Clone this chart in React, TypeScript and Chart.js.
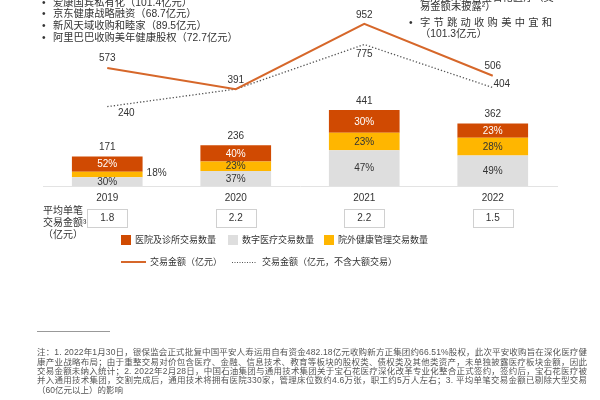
import React, { useEffect, useRef } from "react";
import { Chart, registerables } from "chart.js";

Chart.register(...registerables);

// ---------- data ----------
const years = ["2019", "2020", "2021", "2022"];
const totalDeals = [171, 236, 441, 362];
const hospitalDeals = [89, 94, 132, 83];
const digitalDeals = [51, 87, 207, 177];
const outsideDeals = [31, 55, 102, 102];
const hospitalPct = [52, 40, 30, 23];
const digitalPct = [30, 37, 47, 49];
const outsidePct = [18, 23, 23, 28];
const dealAmount = [573, 391, 952, 506];
const dealAmountExLarge = [240, 391, 775, 404];
const avgDealSize = ["1.8", "2.2", "2.2", "1.5"];

const leftBullets = [
  "爱康国宾私有化（101.4亿元）",
  "京东健康战略融资（68.7亿元）",
  "新风天域收购和睦家（89.5亿元）",
  "阿里巴巴收购美年健康股权（72.7亿元）",
];
const rightNoteTop = ["通用技术整合宝石花医疗（交", "易金额未披露²）"];
const rightBullet = ["字节跳动收购美中宜和", "（101.3亿元）"];
const avgLabelLines = ["平均单笔", "交易金额³", "（亿元）"];
const footnoteLines = [
  "注：1. 2022年1月30日，银保监会正式批复中国平安人寿运用自有资金482.18亿元收购新方正集团约66.51%股权，此次平安收购旨在深化医疗健",
  "康产业战略布局；由于重整交易对价包含医疗、金融、信息技术、教育等板块的股权类、债权类及其他类资产，未单独披露医疗板块金额，因此",
  "交易金额未纳入统计；2. 2022年2月28日，中国石油集团与通用技术集团关于宝石花医疗深化改革专业化整合正式签约，签约后，宝石花医疗被",
  "并入通用技术集团，交割完成后，通用技术将拥有医院330家，管理床位数约4.6万张，职工约5万人左右；3. 平均单笔交易金额已剔除大型交易",
  "（60亿元以上）的影响",
];

// ---------- style ----------
const FONT = "'Liberation Sans', 'Noto Sans CJK SC', sans-serif";
const C_HOSP = "#D04A02";
const C_DIGI = "#DEDEDE";
const C_OUT = "#FFB600";
const C_LINE = "#D6672A";
const C_DOT = "#555555";
const C_TEXT = "#333333";

const f = (sz: number) => `${sz}px ${FONT}`;

// label offsets for line values (dx, dy) relative to points
const solidLabelOffsets: [number, number][] = [[0, -10], [0, -9], [0, -9], [0, -10]];
const dottedLabelOffsets: ([number, number] | null)[] = [[19, 7], null, [0, 10], [9, -3]];

function justify(ctx: CanvasRenderingContext2D, text: string, x0: number, x1: number, y: number) {
  const chars = Array.from(text);
  const widths = chars.map((c) => ctx.measureText(c).width);
  const total = widths.reduce((a, b) => a + b, 0);
  const gap = chars.length > 1 ? (x1 - x0 - total) / (chars.length - 1) : 0;
  let x = x0;
  chars.forEach((c, i) => {
    ctx.fillText(c, x, y);
    x += widths[i] + gap;
  });
}

const overlayPlugin = {
  id: "overlay",
  afterDraw(chart: any) {
    const ctx = chart.ctx as CanvasRenderingContext2D;
    const xs = chart.scales.x;
    ctx.save();
    ctx.textBaseline = "middle";

    // segment percentage labels
    const segs = [
      { ds: 0, pct: digitalPct, color: C_TEXT },
      { ds: 1, pct: outsidePct, color: C_TEXT },
      { ds: 2, pct: hospitalPct, color: "#FFFFFF" },
    ];
    ctx.font = f(10);
    segs.forEach((s) => {
      const meta = chart.getDatasetMeta(s.ds);
      meta.data.forEach((el: any, i: number) => {
        const p = el.getProps(["x", "y", "base", "width"], true);
        const h = p.base - p.y;
        const t = s.pct[i] + "%";
        if (h < 7) {
          ctx.textAlign = "left";
          ctx.fillStyle = C_TEXT;
          ctx.fillText(t, p.x + p.width / 2 + 4, (p.y + p.base) / 2 - 1);
        } else {
          ctx.textAlign = "center";
          ctx.fillStyle = s.color;
          ctx.fillText(t, p.x, (p.y + p.base) / 2 + 0.5);
        }
      });
    });

    // totals above bars
    ctx.textAlign = "center";
    ctx.fillStyle = C_TEXT;
    const topMeta = chart.getDatasetMeta(2);
    topMeta.data.forEach((el: any, i: number) => {
      const p = el.getProps(["x", "y"], true);
      ctx.fillText(String(totalDeals[i]), p.x, p.y - 9);
    });

    // line value labels
    const solidMeta = chart.getDatasetMeta(3);
    solidMeta.data.forEach((el: any, i: number) => {
      const p = el.getProps(["x", "y"], true);
      const o = solidLabelOffsets[i];
      ctx.fillText(String(dealAmount[i]), p.x + o[0], p.y + o[1]);
    });
    const dotMeta = chart.getDatasetMeta(4);
    dotMeta.data.forEach((el: any, i: number) => {
      const o = dottedLabelOffsets[i];
      if (!o) return;
      const p = el.getProps(["x", "y"], true);
      ctx.fillText(String(dealAmountExLarge[i]), p.x + o[0], p.y + o[1]);
    });

    // average deal size row
    ctx.font = f(10);
    avgDealSize.forEach((v, i) => {
      const cx = xs.getPixelForValue(i);
      ctx.strokeStyle = "#D0D0D0";
      ctx.lineWidth = 1;
      ctx.strokeRect(Math.round(cx - 20) + 0.5, 209.5, 40, 18);
      ctx.fillStyle = C_TEXT;
      ctx.textAlign = "center";
      ctx.fillText(v, cx, 218.5);
    });
    ctx.textAlign = "left";
    avgLabelLines.forEach((t, i) => {
      ctx.fillText(t, 43, 211 + i * 12);
    });

    // legend
    const ds = chart.data.datasets;
    ctx.font = f(9);
    const boxes = [
      { i: 2, x: 121 },
      { i: 0, x: 228 },
      { i: 1, x: 324 },
    ];
    boxes.forEach((b) => {
      ctx.fillStyle = ds[b.i].backgroundColor;
      ctx.fillRect(b.x, 235, 10, 10);
      ctx.fillStyle = C_TEXT;
      ctx.fillText(ds[b.i].label, b.x + 14, 240.5);
    });
    ctx.strokeStyle = C_LINE;
    ctx.lineWidth = 2;
    ctx.beginPath();
    ctx.moveTo(121, 262);
    ctx.lineTo(146, 262);
    ctx.stroke();
    ctx.fillStyle = C_TEXT;
    ctx.fillText(ds[3].label, 150, 262.5);
    ctx.strokeStyle = C_DOT;
    ctx.lineWidth = 1;
    ctx.setLineDash([1, 1.5]);
    ctx.beginPath();
    ctx.moveTo(232, 262.5);
    ctx.lineTo(256, 262.5);
    ctx.stroke();
    ctx.setLineDash([]);
    ctx.fillText(ds[4].label, 262, 262.5);

    // top-left bullets
    ctx.font = f(10.3);
    ctx.fillStyle = C_TEXT;
    const ly = [3, 14.5, 26, 38.5];
    leftBullets.forEach((t, i) => {
      ctx.fillText("•", 42, ly[i]);
      ctx.fillText(t, 53, ly[i]);
    });

    // top-right notes
    ctx.fillText(rightNoteTop[0], 420, -2);
    ctx.fillText(rightNoteTop[1], 420, 7.5);
    ctx.fillText("•", 409, 23);
    justify(ctx, rightBullet[0], 420, 552, 23);
    ctx.fillText(rightBullet[1], 420, 34);

    // footnote
    ctx.strokeStyle = "#999999";
    ctx.lineWidth = 1;
    ctx.beginPath();
    ctx.moveTo(37, 331.5);
    ctx.lineTo(110, 331.5);
    ctx.stroke();
    ctx.font = f(8.5);
    ctx.fillStyle = "#555555";
    footnoteLines.forEach((t, i) => {
      const y = 353 + i * 9.3;
      if (i < footnoteLines.length - 1) justify(ctx, t, 37, 587, y);
      else ctx.fillText(t, 37, y);
    });

    ctx.restore();
  },
};

export default function App() {
  const ref = useRef<HTMLCanvasElement>(null);
  useEffect(() => {
    if (!ref.current) return;
    const barCommon = {
      type: "bar" as const,
      yAxisID: "y",
      stack: "deals",
      barPercentage: 0.55,
      categoryPercentage: 1,
      borderWidth: 0,
    };
    const chart = new Chart(ref.current, {
      type: "bar",
      data: {
        labels: years,
        datasets: [
          { ...barCommon, label: "数字医疗交易数量", data: digitalDeals, backgroundColor: C_DIGI },
          { ...barCommon, label: "院外健康管理交易数量", data: outsideDeals, backgroundColor: C_OUT },
          { ...barCommon, label: "医院及诊所交易数量", data: hospitalDeals, backgroundColor: C_HOSP },
          {
            type: "line",
            label: "交易金额（亿元）",
            data: dealAmount,
            yAxisID: "y2",
            borderColor: C_LINE,
            borderWidth: 2,
            pointRadius: 0,
            tension: 0,
            fill: false,
          },
          {
            type: "line",
            label: "交易金额（亿元，不含大额交易）",
            data: dealAmountExLarge,
            yAxisID: "y2",
            borderColor: C_DOT,
            borderWidth: 1.3,
            borderDash: [1.3, 2],
            pointRadius: 0,
            tension: 0,
            fill: false,
          },
        ] as any,
      },
      options: {
        responsive: false,
        animation: false,
        devicePixelRatio: 1,
        layout: { padding: { left: 43, right: 43, top: 10, bottom: 194 } },
        plugins: { legend: { display: false }, tooltip: { enabled: false } },
        scales: {
          x: {
            stacked: true,
            offset: true,
            grid: { display: false, drawTicks: false },
            border: { display: true, color: "#E3E3E3", width: 1 },
            ticks: { font: { size: 10, family: FONT }, color: C_TEXT, padding: 6 },
            afterFit: (s: any) => {
              s.height = 20;
            },
          },
          y: { stacked: true, display: false, min: 0, max: 1020 },
          y2: { stacked: false, display: false, min: -443, max: 1072 },
        },
      } as any,
      plugins: [overlayPlugin],
    });
    return () => chart.destroy();
  }, []);
  return (
    <div style={{ position: "absolute", left: 0, top: 0, width: 600, height: 400, background: "#fff" }}>
      <canvas ref={ref} width={600} height={400} style={{ display: "block" }} />
    </div>
  );
}
